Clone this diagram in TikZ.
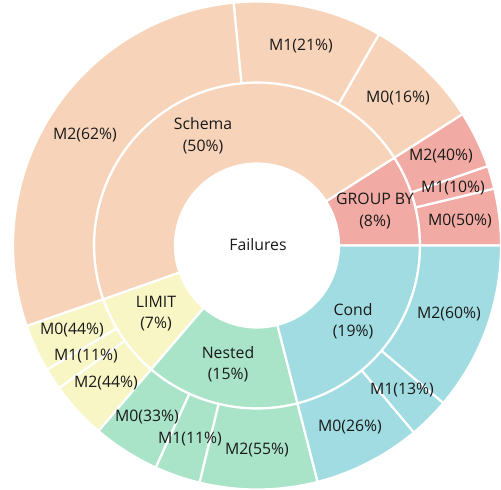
\documentclass[tikz,border=0pt]{standalone}
\usepackage{fontspec}
\setmainfont{Open Sans}
\definecolor{cschema}{HTML}{F7D4B9}
\definecolor{cgroup}{HTML}{F2ABA4}
\definecolor{ccond}{HTML}{A0DCE1}
\definecolor{cnested}{HTML}{A9E4C9}
\definecolor{climit}{HTML}{F8F6C5}
\newcommand\annsect[5]{%
  \fill[#5, draw=white, line width=2.2pt, line join=miter]
    (#3:#1pt) arc[start angle=#3, end angle=#4, radius=#1pt]
    -- (#4:#2pt) arc[start angle=#4, end angle=#3, radius=#2pt] -- cycle;}
\begin{document}
\begin{tikzpicture}[x=1pt,y=1pt,
  lbl/.style={font=\fontsize{15.8}{21.5}\selectfont, align=center, inner sep=0pt, text=black!90}]
\useasboundingbox (0,0) rectangle (501,-490);
\begin{scope}[shift={(257,-245.5)}]
% inner ring
\annsect{82}{163}{0}{32.6}{cgroup}
\annsect{82}{163}{32.6}{199.3}{cschema}
\annsect{82}{163}{199.3}{229.5}{climit}
\annsect{82}{163}{229.5}{284.4}{cnested}
\annsect{82}{163}{284.4}{360}{ccond}
% outer ring
\annsect{163}{244}{0}{13.5}{cgroup}
\annsect{163}{244}{13.5}{19}{cgroup}
\annsect{163}{244}{19}{32.6}{cgroup}
\annsect{163}{244}{32.6}{60}{cschema}
\annsect{163}{244}{60}{95.5}{cschema}
\annsect{163}{244}{95.5}{199.3}{cschema}
\annsect{163}{244}{199.3}{210.6}{climit}
\annsect{163}{244}{210.6}{215.8}{climit}
\annsect{163}{244}{215.8}{229.5}{climit}
\annsect{163}{244}{229.5}{245.5}{cnested}
\annsect{163}{244}{245.5}{256.4}{cnested}
\annsect{163}{244}{256.4}{284.4}{cnested}
\annsect{163}{244}{284.4}{310}{ccond}
\annsect{163}{244}{310}{319.8}{ccond}
\annsect{163}{244}{319.8}{360}{ccond}
\end{scope}
% labels
\node[lbl] (root) at (258,-245) {Failures};
\node[lbl] (schema) at (203,-135.5) {Schema\\(50\%)};
\node[lbl] (groupby) at (375,-211) {GROUP BY\\(8\%)};
\node[lbl] (limit) at (156,-313.5) {LIMIT\\(7\%)};
\node[lbl] (nested) at (228,-364) {Nested\\(15\%)};
\node[lbl] (cond) at (353,-321) {Cond\\(19\%)};
\node[lbl] (s2) at (85,-135) {M2(62\%)};
\node[lbl] (s1) at (301,-46) {M1(21\%)};
\node[lbl] (s0) at (398,-98) {M0(16\%)};
\node[lbl] (g2) at (441,-156) {M2(40\%)};
\node[lbl] (g1) at (453,-188) {M1(10\%)};
\node[lbl] (g0) at (460,-221) {M0(50\%)};
\node[lbl] (c2) at (449,-314) {M2(60\%)};
\node[lbl] (c1) at (402,-390) {M1(13\%)};
\node[lbl] (c0) at (350,-427) {M0(26\%)};
\node[lbl] (n2) at (257,-450) {M2(55\%)};
\node[lbl] (n1) at (190,-439) {M1(11\%)};
\node[lbl] (n0) at (147,-417) {M0(33\%)};
\node[lbl] (l2) at (106,-383) {M2(44\%)};
\node[lbl] (l1) at (86,-356) {M1(11\%)};
\node[lbl] (l0) at (72,-330) {M0(44\%)};
\end{tikzpicture}
\end{document}
